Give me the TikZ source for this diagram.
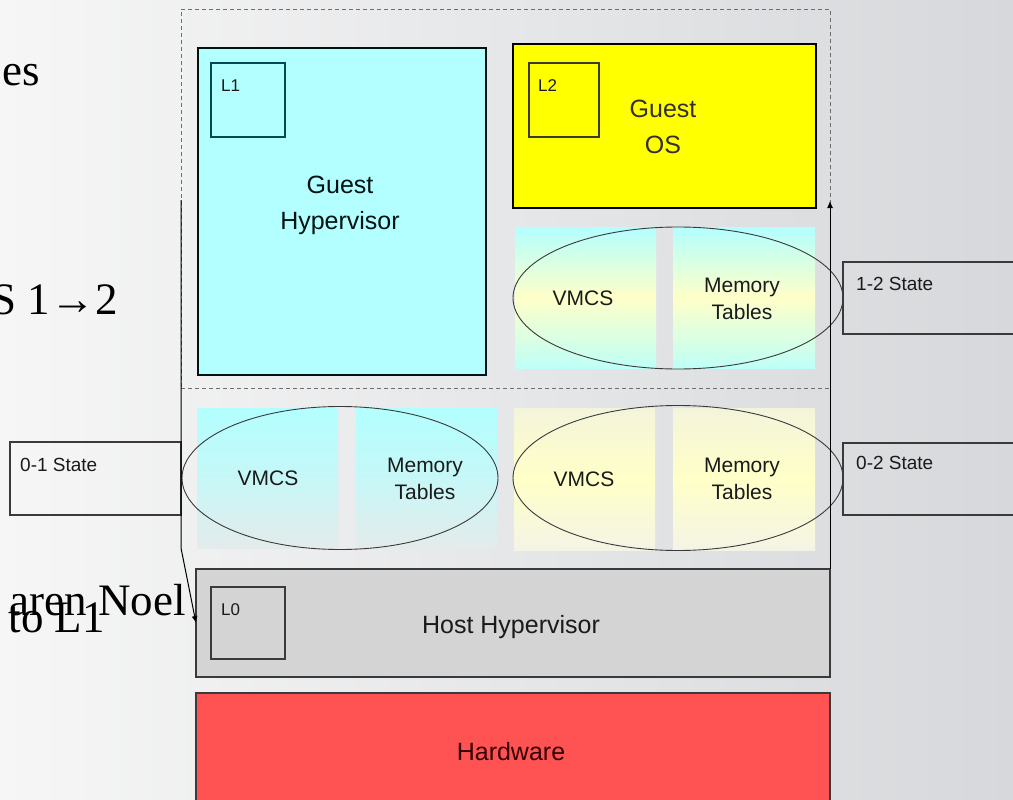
\documentclass[tikz,border=0pt]{standalone}
\usepackage{fontspec}
\setmainfont{Liberation Serif}
\newfontfamily\sansf{Liberation Sans}
\usetikzlibrary{shapes.geometric,arrows.meta}
\definecolor{bgleft}{HTML}{F6F6F6}
\definecolor{bgright}{HTML}{D6D8DB}
\definecolor{cyanfill}{HTML}{B3FFFF}
\definecolor{cyanpale}{HTML}{E4EBEB}
\definecolor{paleyellow}{HTML}{FFFFC8}
\definecolor{creamtop}{HTML}{F4F4DC}
\definecolor{creambot}{HTML}{F4F4E6}
\definecolor{osyellow}{HTML}{FFFF00}
\definecolor{hostgray}{HTML}{D4D4D4}
\definecolor{hwred}{HTML}{FF5252}
\definecolor{darkline}{HTML}{3A3A3A}
\definecolor{dashgray}{HTML}{6E6E6E}
\definecolor{textdark}{HTML}{1A1A1A}
\begin{document}
\begin{tikzpicture}[x=1pt,y=-1pt,
  box/.style={rectangle, anchor=north west, inner sep=0pt, outer sep=0pt},
  thickbox/.style={box, draw=black, line width=2.6pt},
  levelbox/.style={box, draw=darkline, line width=1.4pt, minimum width=74pt, minimum height=74pt},
  panel/.style={box, minimum width=141pt, minimum height=141pt},
  cyanpanel/.style={panel, top color=cyanfill, bottom color=cyanfill!85!paleyellow, middle color=paleyellow},
  graypanel/.style={panel, top color=cyanfill, bottom color=cyanpale, middle color=cyanfill!60!cyanpale},
  yelpanel/.style={panel, top color=creamtop, bottom color=creambot, middle color=paleyellow},
  ring/.style={ellipse, draw=darkline, line width=0.9pt, inner sep=0pt},
  statebox/.style={box, draw=darkline, line width=1.4pt, minimum width=200pt, minimum height=72pt},
  frame/.style={draw=dashgray, line width=0.9pt, dash pattern=on 4pt off 3pt},
  conn/.style={draw=black, line width=1pt, -{Latex[length=7pt,width=6pt]}},
  bigtxt/.style={font=\sansf\fontsize{25}{36}\selectfont, text=textdark, align=center, inner sep=0pt},
  midtxt/.style={font=\sansf\fontsize{21}{27}\selectfont, text=textdark, align=center, inner sep=0pt},
  smalltxt/.style={font=\sansf\fontsize{19}{22}\selectfont, text=textdark, inner sep=0pt},
  lvltxt/.style={font=\sansf\fontsize{17}{20}\selectfont, text=textdark, inner sep=0pt},
  slidetxt/.style={font=\fontsize{45}{50}\selectfont, text=black, inner sep=0pt}
]
\useasboundingbox (0,0) rectangle (1013,800);
\clip (0,0) rectangle (1013,800);
\shade[left color=bgleft, right color=bgright] (0,0) rectangle (1013,800);

% slide text fragments
\node[slidetxt, anchor=base east] (s1) at (40,85) {es};
\node[slidetxt, anchor=base east] (s2) at (118,314) {S 1→2};
\node[slidetxt, anchor=base east] (s3) at (105,632) {to L1};
\node[slidetxt, anchor=base east] (s4) at (186,615) {aren Noel};

% dashed frame of the L1 domain
\node[box, frame, minimum width=649pt, minimum height=379pt] (frm) at (181,9) {};
\draw[frame] (181,388) -- (830,388);

% Guest hypervisor
\node[thickbox, draw=black!85!teal, fill=cyanfill, minimum width=288pt, minimum height=327pt] (gh) at (198,48) {};
\node[levelbox, draw=teal!60!black] (l1) at (211,63) {};
\node[lvltxt, anchor=west] (l1t) at (221,86) {L1};
\node[bigtxt, text=black!85!teal] (ght) at (340,205) {Guest\\Hypervisor};

% Guest OS
\node[thickbox, fill=osyellow, minimum width=303pt, minimum height=164pt] (gos) at (513,44) {};
\node[levelbox, minimum width=70pt] (l2) at (529,63) {};
\node[lvltxt, anchor=west] (l2t) at (538,86) {L2};
\node[bigtxt, text=black!85!olive] (gost) at (663,127) {Guest\\OS};

% 1-2 state panels
\node[cyanpanel, minimum width=141pt] (p12a) at (515,227) {};
\node[cyanpanel, minimum width=142pt] (p12b) at (673,227) {};
\node[ring, minimum width=330pt, minimum height=142pt] (e12) at (678,298) {};
\node[midtxt] (v12) at (583,298) {VMCS};
\node[midtxt] (m12) at (742,299) {Memory\\Tables};

% 0-1 state panels
\node[graypanel, minimum height=140pt] (p01a) at (197,408) {};
\node[graypanel, minimum height=140pt] (p01b) at (356,408) {};
\node[ring, minimum width=316pt, minimum height=143pt] (e01) at (340,478) {};
\node[midtxt] (v01) at (268,478) {VMCS};
\node[midtxt] (m01) at (425,479) {Memory\\Tables};

% 0-2 state panels
\node[yelpanel, minimum height=142pt] (p02a) at (514,408) {};
\node[yelpanel, minimum width=142pt, minimum height=142pt] (p02b) at (673,408) {};
\node[ring, minimum width=330pt, minimum height=145pt] (e02) at (678,478) {};
\node[midtxt] (v02) at (584,479) {VMCS};
\node[midtxt] (m02) at (742,479) {Memory\\Tables};

% state boxes
\node[statebox] (st12) at (843,262) {};
\node[smalltxt, anchor=west] (st12t) at (856,284) {1-2 State};
\node[statebox, minimum width=171pt, minimum height=73pt] (st01) at (10,442) {};
\node[smalltxt, anchor=west] (st01t) at (20,465) {0-1 State};
\node[statebox] (st02) at (843,443) {};
\node[smalltxt, anchor=west] (st02t) at (856,463) {0-2 State};

% host hypervisor and hardware
\node[box, draw=darkline, line width=1.4pt, fill=hostgray, minimum width=634pt, minimum height=108pt] (host) at (196,569) {};
\node[levelbox, minimum height=72pt] (l0) at (211,587) {};
\node[lvltxt, anchor=west] (l0t) at (221,610) {L0};
\node[bigtxt] (hostt) at (511,627) {Host Hypervisor};
\node[box, draw=darkline, line width=1.4pt, fill=hwred, minimum width=634pt, minimum height=130pt] (hw) at (196,693) {};
\node[bigtxt, text=black!80!red] (hwt) at (511,752) {Hardware};

% connectors
\coordinate (ltop) at (181,200);
\coordinate (lbend) at (181,548);
\coordinate (rtop) at (830,201);
\draw[conn] (ltop) -- (lbend) -- (host.west);
\draw[conn] (host.north east) -- (rtop);
\end{tikzpicture}
\end{document}
